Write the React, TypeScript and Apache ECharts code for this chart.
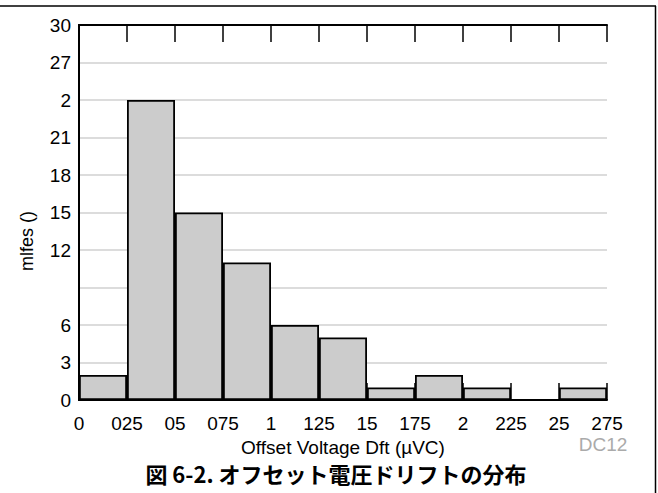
import React, { useEffect, useRef } from "react";
import * as echarts from "echarts";

const categories = ["0-025", "025-05", "05-075", "075-1", "1-125", "125-15", "15-175", "175-2", "2-225", "225-25", "25-275"];
const counts = [2, 24, 15, 11, 6, 5, 1, 2, 1, 0, 1];
const xTickLabels = ["0", "025", "05", "075", "1", "125", "15", "175", "2", "225", "25", "275"];
const yTickLabels = ["0", "3", "6", "", "12", "15", "18", "21", "2", "27", "30"];

const FONT = "'Liberation Sans', Arial, Helvetica, sans-serif";

export default function App() {
  const ref = useRef<HTMLDivElement>(null);
  useEffect(() => {
    if (!ref.current) return;
    const chart = echarts.init(ref.current, null, { renderer: "svg" });
    chart.setOption({
      animation: false,
      backgroundColor: "#ffffff",
      textStyle: { fontFamily: FONT },
      grid: { left: 79, top: 25, right: 51, bottom: 93, show: false },
      xAxis: [
        {
          type: "category",
          data: categories,
          show: false,
          boundaryGap: true,
        },
        {
          type: "value",
          position: "bottom",
          min: 0,
          max: 11,
          interval: 1,
          axisLine: { show: true, lineStyle: { color: "#000", width: 2 } },
          axisTick: { show: true, inside: true, length: 17, lineStyle: { color: "#000", width: 1.5 } },
          axisLabel: {
            show: true,
            margin: 14,
            fontSize: 19,
            color: "#000",
            fontFamily: FONT,
            formatter: (v: number) => xTickLabels[Math.round(v)] ?? "",
          },
          splitLine: { show: false },
          name: "Offset Voltage Dft (µVC)",
          nameLocation: "middle",
          nameGap: 34,
          nameTextStyle: { fontSize: 19, color: "#000", fontFamily: FONT },
        },
        {
          type: "value",
          position: "top",
          min: 0,
          max: 11,
          interval: 1,
          axisLine: { show: true, lineStyle: { color: "#000", width: 2 } },
          axisTick: { show: true, inside: true, length: 17, lineStyle: { color: "#000", width: 1.5 } },
          axisLabel: { show: false },
          splitLine: { show: false },
        },
      ],
      yAxis: [
        {
          type: "value",
          min: 0,
          max: 30,
          interval: 3,
          axisLine: { show: true, lineStyle: { color: "#000", width: 2 } },
          axisTick: { show: false },
          axisLabel: {
            margin: 8,
            fontSize: 19,
            color: "#000",
            fontFamily: FONT,
            formatter: (v: number) => yTickLabels[Math.round(v / 3)] ?? "",
          },
          splitLine: { show: true, lineStyle: { color: "#d0d0d0", width: 1.5 } },
        },
        {
          type: "value",
          position: "right",
          min: 0,
          max: 30,
          interval: 3,
          axisLine: { show: true, lineStyle: { color: "#000", width: 2 } },
          axisTick: { show: false },
          axisLabel: { show: false },
          splitLine: { show: false },
        },
      ],
      series: [
        {
          type: "bar",
          xAxisIndex: 0,
          yAxisIndex: 0,
          data: counts,
          barWidth: "100%",
          barCategoryGap: "0%",
          itemStyle: { color: "#cccccc", borderColor: "#000", borderWidth: 1.8 },
          z: 3,
        },
      ],
      graphic: [
        {
          type: "line",
          shape: { x1: 0, y1: 6, x2: 656, y2: 6 },
          style: { stroke: "#000", lineWidth: 1.5 },
        },
        {
          type: "line",
          shape: { x1: 655.5, y1: 6, x2: 655.5, y2: 493 },
          style: { stroke: "#000", lineWidth: 1.5 },
        },
        {
          type: "text",
          x: 27,
          y: 241,
          rotation: Math.PI / 2,
          style: {
            text: "mlfes ()",
            fontSize: 18,
            fontFamily: FONT,
            fill: "#000",
            align: "center",
            verticalAlign: "middle",
          },
        },
        {
          type: "text",
          x: 603,
          y: 444,
          style: {
            text: "DC12",
            fontSize: 19,
            fontFamily: FONT,
            fill: "#aaaaaa",
            align: "center",
            verticalAlign: "middle",
          },
        },
        {
          type: "text",
          x: 336,
          y: 473,
          style: {
            text: "図 6-2. オフセット電圧ドリフトの分布",
            fontSize: 22,
            fontWeight: "bold",
            fontFamily: "'Noto Sans CJK JP', 'Liberation Sans', sans-serif",
            fill: "#000",
            align: "center",
            verticalAlign: "middle",
          },
        },
      ],
    });
    return () => chart.dispose();
  }, []);
  return (
    <div
      ref={ref}
      style={{ position: "absolute", left: 0, top: 0, width: 658, height: 493 }}
    />
  );
}
